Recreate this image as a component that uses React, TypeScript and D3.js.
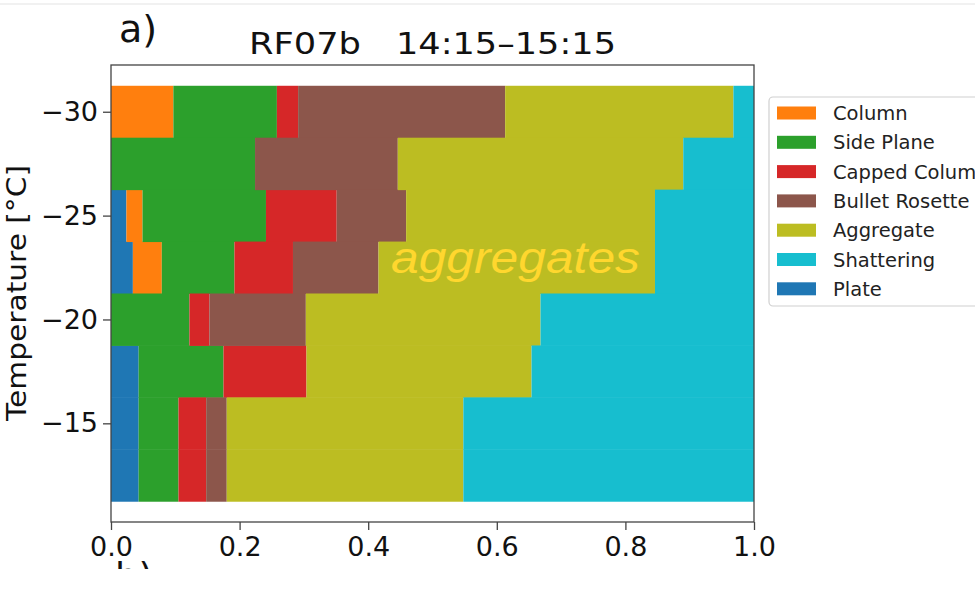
import { useEffect, useRef } from "react";
import * as d3 from "d3";

// temperature bin centres (°C), 2.5 degree bins
const temps = [-30, -27.5, -25, -22.5, -20, -17.5, -15, -12.5];

// fraction of each habit per bin, stacked left to right in this order
const plate = [0, 0, 0.024, 0.034, 0, 0.043, 0.043, 0.043];
const column = [0.097, 0, 0.025, 0.045, 0, 0, 0, 0];
const sidePlane = [0.161, 0.224, 0.192, 0.113, 0.122, 0.132, 0.062, 0.062];
const cappedColumn = [0.033, 0, 0.11, 0.091, 0.031, 0.129, 0.043, 0.043];
const bulletRosette = [0.322, 0.222, 0.108, 0.133, 0.15, 0, 0.032, 0.032];
const aggregate = [0.355, 0.444, 0.387, 0.43, 0.365, 0.35, 0.368, 0.368];
const shattering = [0.032, 0.11, 0.154, 0.154, 0.332, 0.346, 0.452, 0.452];

const stackOrder = [
  "Plate",
  "Column",
  "Side Plane",
  "Capped Column",
  "Bullet Rosette",
  "Aggregate",
  "Shattering",
];
const legendOrder = [
  "Column",
  "Side Plane",
  "Capped Column",
  "Bullet Rosette",
  "Aggregate",
  "Shattering",
  "Plate",
];
const colors: Record<string, string> = {
  Plate: "#1f77b4",
  Column: "#ff7f0e",
  "Side Plane": "#2ca02c",
  "Capped Column": "#d62728",
  "Bullet Rosette": "#8c564b",
  Aggregate: "#bcbd22",
  Shattering: "#17becf",
};
const xTicks = [0, 0.2, 0.4, 0.6, 0.8, 1.0];
const yTicks = [-30, -25, -20, -15];

const Chart = () => {
  const svgRef = useRef<SVGSVGElement | null>(null);

  useEffect(() => {
    const svg = d3.select(svgRef.current);
    svg.selectAll("*").remove();

    const font = "DejaVu Sans, sans-serif";
    const left = 111,
      right = 754,
      top = 65,
      bottom = 522;

    const x = d3.scaleLinear().domain([0, 1]).range([left, right]);
    const y = d3.scaleLinear().domain([-32.25, -10.25]).range([top, bottom]);

    const rows = temps.map((t, i) => ({
      t,
      Plate: plate[i],
      Column: column[i],
      "Side Plane": sidePlane[i],
      "Capped Column": cappedColumn[i],
      "Bullet Rosette": bulletRosette[i],
      Aggregate: aggregate[i],
      Shattering: shattering[i],
    }));
    const stack = d3.stack<any>().keys(stackOrder)(rows);

    // faint line along the top of the page
    svg
      .append("line")
      .attr("x1", 0)
      .attr("x2", 975)
      .attr("y1", 4)
      .attr("y2", 4)
      .attr("stroke", "#ececec")
      .attr("stroke-width", 1.5);

    const bars = svg.append("g");
    stack.forEach((layer) => {
      bars
        .append("g")
        .attr("fill", colors[layer.key])
        .selectAll("rect")
        .data(layer)
        .enter()
        .append("rect")
        .attr("x", (d) => x(d[0]))
        .attr("width", (d) => Math.max(0, x(d[1]) - x(d[0])))
        .attr("y", (d) => y(d.data.t - 1.25))
        .attr("height", (d) => y(d.data.t + 1.25) - y(d.data.t - 1.25) + 0.5);
    });

    svg
      .append("text")
      .attr("x", 391)
      .attr("y", 273)
      .attr("font-family", "Liberation Sans, Arial, sans-serif")
      .attr("font-style", "italic")
      .attr("font-size", 44)
      .attr("textLength", 249)
      .attr("lengthAdjust", "spacingAndGlyphs")
      .attr("fill", "#ffd72e")
      .text("aggregates");

    // frame
    svg
      .append("rect")
      .attr("x", left)
      .attr("y", top)
      .attr("width", right - left)
      .attr("height", bottom - top)
      .attr("fill", "none")
      .attr("stroke", "#444")
      .attr("stroke-width", 1.3);

    const xAxis = svg
      .append("g")
      .attr("transform", `translate(0,${bottom})`)
      .call(
        d3
          .axisBottom(x)
          .tickValues(xTicks)
          .tickFormat(d3.format(".1f"))
          .tickSize(8)
          .tickPadding(7)
          .tickSizeOuter(0)
      );
    const yAxis = svg
      .append("g")
      .attr("transform", `translate(${left},0)`)
      .call(
        d3
          .axisLeft(y)
          .tickValues(yTicks)
          .tickFormat((d) => `\u2212${Math.abs(d as number)}`)
          .tickSize(8)
          .tickPadding(5)
          .tickSizeOuter(0)
      );
    [xAxis, yAxis].forEach((ax) => {
      ax.select(".domain").remove();
      ax.selectAll("line").attr("stroke", "#444").attr("stroke-width", 1.3);
      ax.selectAll("text")
        .attr("font-family", font)
        .attr("font-size", 27)
        .attr("fill", "#111");
    });

    svg
      .append("text")
      .attr("transform", "translate(26,293) rotate(-90)")
      .attr("text-anchor", "middle")
      .attr("font-family", font)
      .attr("font-size", 27)
      .attr("textLength", 256)
      .attr("lengthAdjust", "spacingAndGlyphs")
      .attr("fill", "#111")
      .text("Temperature [°C]");

    // titles
    svg
      .append("text")
      .attr("x", 119)
      .attr("y", 42)
      .attr("font-family", font)
      .attr("font-size", 38)
      .attr("fill", "#111")
      .text("a)");
    svg
      .append("text")
      .attr("x", 249)
      .attr("y", 54)
      .attr("font-family", font)
      .attr("font-size", 30)
      .attr("textLength", 112)
      .attr("lengthAdjust", "spacingAndGlyphs")
      .attr("fill", "#111")
      .text("RF07b");
    svg
      .append("text")
      .attr("x", 396)
      .attr("y", 54)
      .attr("font-family", font)
      .attr("font-size", 30)
      .attr("textLength", 220)
      .attr("lengthAdjust", "spacingAndGlyphs")
      .attr("fill", "#111")
      .text("14:15–15:15");

    // clipped top of next panel label
    svg
      .append("clipPath")
      .attr("id", "bclip")
      .append("rect")
      .attr("x", 0)
      .attr("y", 0)
      .attr("width", 975)
      .attr("height", 569);
    svg
      .append("text")
      .attr("clip-path", "url(#bclip)")
      .attr("x", 115)
      .attr("y", 590)
      .attr("font-family", font)
      .attr("font-size", 37)
      .attr("fill", "#111")
      .text("b)");

    // legend (cut by the right edge of the picture, as in the source figure)
    const lg = svg.append("g");
    lg.append("rect")
      .attr("x", 769)
      .attr("y", 97)
      .attr("width", 240)
      .attr("height", 209)
      .attr("rx", 4)
      .attr("fill", "#fff")
      .attr("stroke", "#d0d0d0")
      .attr("stroke-width", 1.2);
    legendOrder.forEach((name, i) => {
      const cy = 113 + i * 29.3;
      lg.append("rect")
        .attr("x", 777)
        .attr("y", cy - 6.5)
        .attr("width", 39)
        .attr("height", 13)
        .attr("fill", colors[name]);
      lg.append("text")
        .attr("x", 833)
        .attr("y", cy)
        .attr("dy", "0.36em")
        .attr("font-family", font)
        .attr("font-size", 19.5)
        .attr("fill", "#222")
        .text(name);
    });
  }, []);

  return (
    <svg
      ref={svgRef}
      width={975}
      height={599}
      style={{ position: "absolute", left: 0, top: 0, background: "#fff" }}
    ></svg>
  );
};

export default function App() {
  return <Chart />;
}
